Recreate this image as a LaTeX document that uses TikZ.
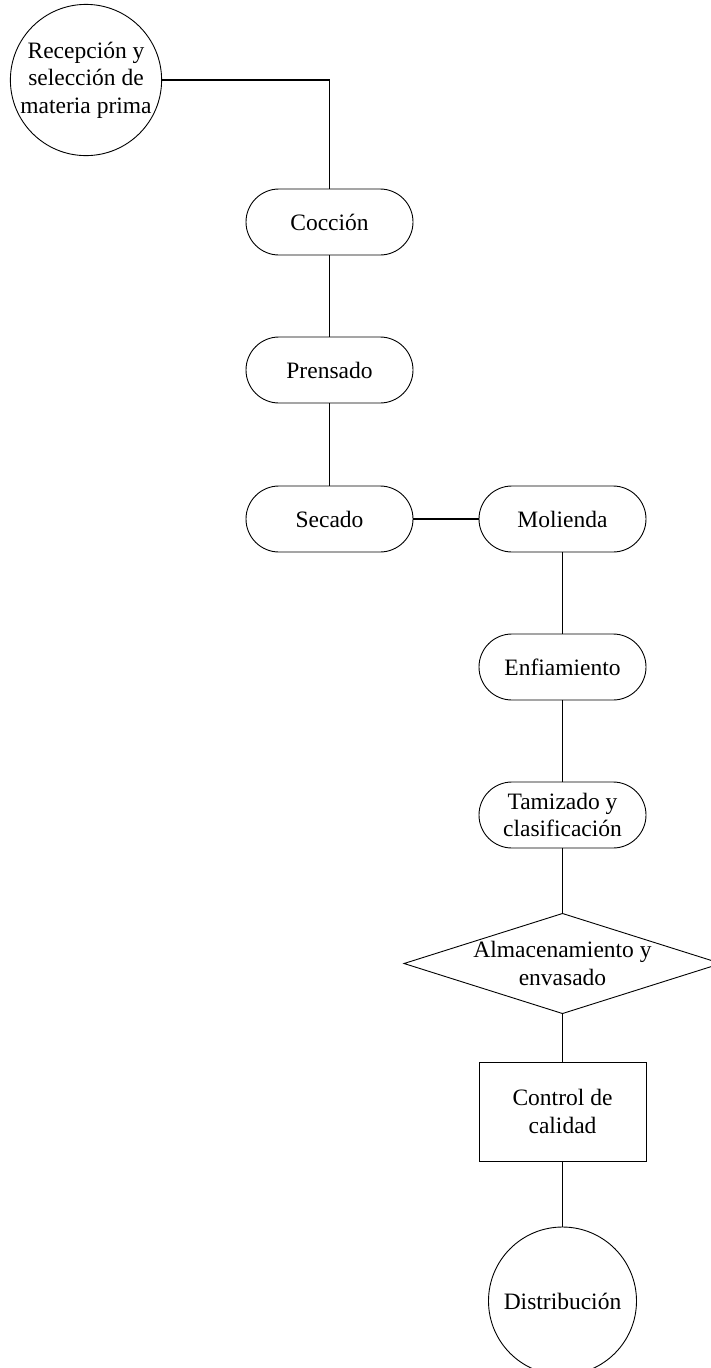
\documentclass[tikz,border=0pt]{standalone}
\usepackage{fontspec}
\setmainfont{Liberation Serif}
\usetikzlibrary{shapes.geometric}
\begin{document}
\begin{tikzpicture}[x=1pt,y=-1pt,
  every node/.style={font=\fontsize{23.5}{27.5}\selectfont, align=center, inner sep=0pt},
  base/.style={draw=black, line width=0.9pt},
  endcircle/.style={base, circle, minimum size=148pt},
  stage/.style={base, rectangle, rounded corners=33pt, minimum width=167pt, minimum height=66pt},
  decision/.style={base, diamond, minimum width=316pt, minimum height=100pt, aspect=3.16},
  checkbox/.style={base, rectangle, minimum width=167pt, minimum height=99pt},
  link/.style={line width=1.1pt}]
  \useasboundingbox (0,0) rectangle (711,1368);

  \node[endcircle] (rec) at (86,80) {Recepción y\\selección de\\materia prima};
  \node[stage] (cocc) at (329.5,222) {Cocción};
  \node[stage] (prens) at (329.5,370) {Prensado};
  \node[stage] (sec) at (329.5,519) {Secado};
  \node[stage] (mol) at (562.5,519) {Molienda};
  \node[stage] (enf) at (562.5,667) {Enfiamiento};
  \node[stage] (tam) at (562.5,815) {Tamizado y\\clasificación};
  \node[decision] (alm) at (562.5,963.5) {Almacenamiento y\\envasado};
  \node[checkbox] (ctrl) at (562.5,1111.5) {Control de\\calidad};
  \node[endcircle] (dist) at (562.5,1301) {Distribución};

  \draw[link] (rec.east) -| (cocc.north);
  \draw[link] (cocc) -- (prens);
  \draw[link] (prens) -- (sec);
  \draw[link] (sec) -- (mol);
  \draw[link] (mol) -- (enf);
  \draw[link] (enf) -- (tam);
  \draw[link] (tam) -- (alm);
  \draw[link] (alm) -- (ctrl);
  \draw[link] (ctrl) -- (dist);
\end{tikzpicture}
\end{document}
